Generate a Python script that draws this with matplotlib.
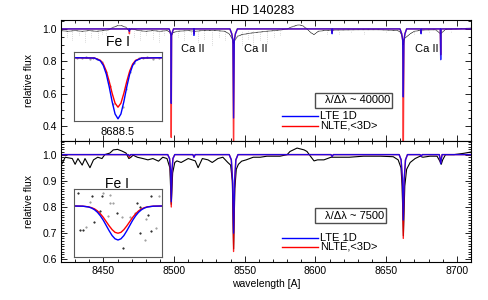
import matplotlib
matplotlib.use("Agg")
import matplotlib.pyplot as plt
from matplotlib.patches import Rectangle
from matplotlib.ticker import MultipleLocator

plt.rcParams["font.family"] = ["Liberation Sans", "DejaVu Sans"]

# ---- top panel: high resolution (R ~ 40000) ----
top_obs_wl = [8420, 8425, 8430, 8435, 8440, 8445, 8450, 8454, 8457, 8460, 8463, 8466,
              8468, 8470, 8475, 8480, 8485, 8490, 8495, 8497, 8498, 8499, 8502, 8510,
              8515, 8520, 8530, 8536, 8539, 8541, 8542, 8543, 8545, 8548, 8555, 8565,
              8575, 8580, 8584, 8588, 8591, 8594, 8597, 8599, 8602, 8606, 8615, 8630,
              8645, 8658, 8660, 8661.5, 8662.1, 8663, 8665, 8667, 8670, 8675, 8685,
              8688.6, 8692, 8700, 8710]
top_obs_flux = [0.99, 0.985, 0.99, 0.985, 0.99, 0.985, 0.99, 0.995, 1.01, 1.02, 1.02, 1.01,
                0.99, 1.0, 0.99, 0.985, 0.99, 0.985, 0.99, 0.98, 0.96, 0.975, 0.985, 0.99,
                0.985, 0.99, 0.99, 0.985, 0.97, 0.94, 0.91, 0.93, 0.955, 0.965, 0.975, 0.985,
                0.993, 1.0, 1.015, 1.025, 1.02, 1.0, 0.975, 0.965, 0.985, 0.99, 0.993, 0.995,
                0.995, 0.99, 0.98, 0.95, 0.9, 0.94, 0.955, 0.97, 0.985, 0.993, 0.995,
                0.97, 0.997, 1.0, 1.005]
# noise spikes of the observed high-resolution spectrum
spike_wl = [8424, 8428, 8433, 8437, 8441, 8446, 8449, 8452, 8472, 8476, 8480, 8485,
            8489, 8493, 8503, 8507, 8512, 8517, 8521, 8527, 8532, 8536, 8548, 8552,
            8556, 8561, 8566, 8571, 8575, 8608, 8617, 8625, 8634, 8650, 8670, 8680, 8696]
spike_flux = [0.95, 0.93, 0.96, 0.92, 0.95, 0.94, 0.97, 0.96, 0.95, 0.93, 0.96, 0.94,
              0.92, 0.96, 0.95, 0.93, 0.97, 0.92, 0.94, 0.9, 0.95, 0.93, 0.9, 0.94,
              0.88, 0.93, 0.91, 0.95, 0.96, 0.97, 0.97, 0.98, 0.97, 0.98, 0.97, 0.98, 0.98]

top_model_wl = [8420, 8468.1, 8468.4, 8468.7,
                8496.5, 8497.3, 8497.8, 8498.02, 8498.25, 8498.8, 8499.6,
                8513.9, 8514.07, 8514.25,
                8539.5, 8540.8, 8541.6, 8542.09, 8542.6, 8543.4, 8544.8,
                8611.5, 8611.8, 8612.1,
                8659.8, 8661.0, 8661.7, 8662.14, 8662.6, 8663.3, 8664.5,
                8674.4, 8674.75, 8675.1,
                8688.3, 8688.6, 8688.9, 8710]
top_lte_flux = [1.0, 1.0, 0.985, 1.0,
                1.0, 0.98, 0.96, 0.54, 0.96, 0.98, 1.0,
                1.0, 0.96, 1.0,
                1.0, 0.97, 0.93, 0.45, 0.93, 0.97, 1.0,
                1.0, 0.97, 1.0,
                1.0, 0.97, 0.93, 0.58, 0.93, 0.97, 1.0,
                1.0, 0.97, 1.0,
                1.0, 0.81, 1.0, 1.0]
top_nlte_flux = [1.0, 1.0, 0.97, 1.0,
                 1.0, 0.98, 0.96, 0.33, 0.96, 0.98, 1.0,
                 1.0, 0.97, 1.0,
                 1.0, 0.97, 0.93, 0.22, 0.93, 0.97, 1.0,
                 1.0, 0.975, 1.0,
                 1.0, 0.97, 0.93, 0.22, 0.93, 0.97, 1.0,
                 1.0, 0.975, 1.0,
                 1.0, 0.84, 1.0, 1.0]

# ---- bottom panel: low resolution (R ~ 7500) ----
bot_obs_wl = [8420.5, 8423, 8428, 8430, 8432, 8435, 8437, 8440.5, 8443, 8446, 8449, 8451,
              8454.6, 8457, 8460, 8463, 8466, 8468, 8469.5, 8471, 8474, 8478, 8481.5, 8485,
              8489, 8492, 8495, 8497, 8498, 8499, 8500.5, 8502, 8505, 8510, 8515, 8517,
              8520, 8524, 8527, 8531, 8534.5, 8538, 8540, 8541.2, 8542.1, 8543, 8544,
              8545.5, 8547.8, 8551, 8556, 8561, 8565.7, 8570.5, 8575, 8580, 8582, 8587,
              8592, 8594, 8597, 8599, 8601.5, 8606, 8611, 8617, 8624, 8634, 8646, 8655,
              8658.5, 8660.5, 8661.3, 8662.2, 8663.2, 8664.5, 8667, 8670.5, 8674, 8676,
              8681, 8686, 8688, 8689, 8690, 8692, 8698, 8705, 8710]
bot_obs_flux = [0.963, 0.99, 0.985, 0.963, 0.985, 0.96, 0.985, 0.95, 0.98, 0.99, 0.985, 1.0,
                1.006, 1.018, 1.02, 1.014, 1.006, 0.985, 0.99, 0.998, 0.99, 0.985, 0.98, 0.985,
                0.975, 0.99, 0.985, 0.95, 0.81, 0.93, 0.97, 0.976, 0.97, 0.985, 0.976, 0.95,
                0.985, 0.98, 0.97, 0.985, 0.99, 0.97, 0.96, 0.9, 0.64, 0.87, 0.944,
                0.963, 0.975, 0.98, 0.99, 0.99, 0.994, 0.994, 0.994, 1.0, 1.012, 1.025,
                1.018, 1.012, 0.99, 0.976, 0.98, 0.98, 0.99, 0.99, 0.99, 0.994, 0.994, 0.992,
                0.98, 0.95, 0.88, 0.69, 0.88, 0.944, 0.97, 0.985, 0.994, 0.99,
                0.994, 0.994, 0.975, 0.963, 0.98, 1.0, 1.0, 1.005, 1.01]

bot_model_wl = [8420, 8467.6, 8468.4, 8469.2,
                8495.5, 8496.8, 8497.5, 8498.02, 8498.5, 8499.2, 8500.5,
                8513.3, 8514.07, 8514.9,
                8539.0, 8540.5, 8541.4, 8542.09, 8542.8, 8543.7, 8545.2,
                8611.0, 8611.8, 8612.6,
                8659.2, 8660.6, 8661.5, 8662.14, 8662.8, 8663.7, 8665.1,
                8674.0, 8674.75, 8675.5,
                8687.6, 8688.1, 8688.6, 8689.1, 8689.6, 8710]
bot_lte_flux = [1.0, 1.0, 0.995, 1.0,
                1.0, 0.985, 0.94, 0.82, 0.94, 0.985, 1.0,
                1.0, 0.99, 1.0,
                1.0, 0.98, 0.9, 0.7, 0.9, 0.98, 1.0,
                1.0, 0.993, 1.0,
                1.0, 0.98, 0.91, 0.75, 0.91, 0.98, 1.0,
                1.0, 0.993, 1.0,
                1.0, 0.985, 0.965, 0.985, 1.0, 1.0]
bot_nlte_flux = [1.0, 1.0, 0.99, 1.0,
                 1.0, 0.985, 0.935, 0.8, 0.935, 0.985, 1.0,
                 1.0, 0.99, 1.0,
                 1.0, 0.98, 0.89, 0.63, 0.89, 0.98, 1.0,
                 1.0, 0.993, 1.0,
                 1.0, 0.98, 0.9, 0.68, 0.9, 0.98, 1.0,
                 1.0, 0.993, 1.0,
                 1.0, 0.987, 0.968, 0.987, 1.0, 1.0]

# ---- Fe I 8688.5 insets ----
ins_top_wl = [8687.75, 8688.1, 8688.2, 8688.25, 8688.3, 8688.35, 8688.4, 8688.45, 8688.5,
              8688.55, 8688.6, 8688.65, 8688.7, 8688.75, 8688.8, 8688.9, 8689.25]
ins_top_lte = [1.0, 0.998, 0.978, 0.946, 0.887, 0.798, 0.695, 0.609, 0.575,
               0.609, 0.695, 0.798, 0.887, 0.946, 0.978, 0.998, 1.0]
ins_top_nlte = [1.0, 0.998, 0.982, 0.956, 0.908, 0.836, 0.753, 0.684, 0.656,
                0.684, 0.753, 0.836, 0.908, 0.956, 0.982, 0.998, 1.0]
ins_top_obs_wl = [8687.8, 8687.88, 8687.95, 8688.02, 8688.08, 8688.15, 8688.22, 8688.3,
                  8688.36, 8688.42, 8688.58, 8688.64, 8688.7, 8688.78, 8688.85, 8688.92,
                  8689.0, 8689.1, 8689.2]
ins_top_obs_flux = [1.0, 0.995, 1.005, 0.99, 1.0, 0.99, 0.97, 0.9, 0.8, 0.68, 0.66, 0.78,
                    0.9, 0.96, 1.0, 0.995, 1.005, 0.99, 1.0]

ins_bot_wl = [8687.0, 8687.3, 8687.5, 8687.6, 8687.7, 8687.8, 8687.9, 8688.0, 8688.1,
              8688.2, 8688.3, 8688.4, 8688.5, 8688.6, 8688.7, 8688.8, 8688.9, 8689.0,
              8689.1, 8689.2, 8689.3, 8689.4, 8689.5, 8689.7, 8690.0]
ins_bot_lte = [1.0, 0.999, 0.994, 0.988, 0.978, 0.963, 0.942, 0.916, 0.885, 0.854, 0.826,
               0.807, 0.8, 0.807, 0.826, 0.854, 0.885, 0.916, 0.942, 0.963, 0.978,
               0.988, 0.994, 0.999, 1.0]
ins_bot_nlte = [1.0, 0.999, 0.995, 0.99, 0.983, 0.971, 0.954, 0.933, 0.908, 0.883, 0.861,
                0.845, 0.84, 0.845, 0.861, 0.883, 0.908, 0.933, 0.954, 0.971, 0.983,
                0.99, 0.995, 0.999, 1.0]
ins_bot_obs_wl = [8687.15, 8687.55, 8687.94, 8688.23, 8687.2, 8687.41, 8687.69, 8688.17,
                  8688.48, 8688.63, 8688.66, 8689.08, 8689.16, 8689.44, 8689.61, 8689.91,
                  8687.89, 8688.91, 8689.53, 8689.8, 8689.25, 8688.34, 8689.61, 8688.0,
                  8687.6, 8688.23, 8689.25, 8689.42, 8687.32]
ins_bot_obs_flux = [1.078, 1.025, 1.059, 1.065, 0.859, 0.875, 0.904, 0.941,
                    0.957, 0.934, 0.751, 0.961, 1.016, 0.922, 0.855, 1.059,
                    0.973, 0.937, 0.947, 0.869, 0.996, 1.016, 1.06, 1.075,
                    1.059, 1.016, 0.839, 0.8, 0.859]

TICK = dict(direction="in", top=True, right=True, labelsize=7.5, width=0.6)


def style_main(ax, ymajor, yminor):
    ax.set_xlim(8420, 8710)
    ax.xaxis.set_major_locator(MultipleLocator(50))
    ax.xaxis.set_minor_locator(MultipleLocator(10))
    ax.yaxis.set_major_locator(MultipleLocator(ymajor))
    ax.yaxis.set_minor_locator(MultipleLocator(yminor))
    ax.tick_params(which="major", length=4, pad=3, **TICK)
    ax.tick_params(which="minor", length=2, **TICK)
    ax.yaxis.set_major_formatter(plt.FormatStrFormatter("%.1f"))
    for s in ax.spines.values():
        s.set_linewidth(0.8)
    ax.set_ylabel("relative flux", fontsize=7.5)
    ax.yaxis.set_label_coords(-0.065, 0.5)


def style_inset(ax, xlim, ylim):
    ax.set_xlim(*xlim)
    ax.set_ylim(*ylim)
    ax.set_xticks([])
    ax.set_yticks([])
    for s in ax.spines.values():
        s.set_linewidth(0.8)
        s.set_edgecolor("0.35")


def legend_block(ax, box, yblue, yred, text):
    x0, y0, x1, y1 = box
    ax.add_patch(Rectangle((x0, y0), x1 - x0, y1 - y0, transform=ax.transAxes,
                           fc="white", ec="0.3", lw=1.0, zorder=4))
    ax.text(0.644, (y0 + y1) / 2, text, transform=ax.transAxes, fontsize=8,
            va="center", zorder=5)
    ax.plot([0.539, 0.627], [yblue, yblue], color="blue", lw=1.0, transform=ax.transAxes)
    ax.plot([0.539, 0.627], [yred, yred], color="red", lw=1.0, transform=ax.transAxes)
    ax.text(0.632, yblue, "LTE 1D", transform=ax.transAxes, fontsize=8, va="center")
    ax.text(0.632, yred, "NLTE,<3D>", transform=ax.transAxes, fontsize=8, va="center")


def main():
    fig = plt.figure(figsize=(4.89, 3.0), dpi=100)
    ax1 = fig.add_axes([0.1247, 0.53, 0.8384, 0.4033])
    ax2 = fig.add_axes([0.1247, 0.1267, 0.8384, 0.4033])

    # top panel
    ax1.vlines(spike_wl, spike_flux, 0.985, colors="0.72", linestyles=":", lw=0.5)
    ax1.plot(top_obs_wl, top_obs_flux, color="black", lw=0.6, ls=(0, (1, 0.5)))
    ax1.plot(top_model_wl, top_nlte_flux, color="red", lw=1.0, alpha=0.8)
    ax1.plot(top_model_wl, top_lte_flux, color="blue", lw=1.0, alpha=0.8)
    ax1.set_ylim(0.308, 1.055)
    style_main(ax1, 0.2, 0.05)
    ax1.tick_params(labelbottom=False)
    for x, lab in [(0.139, "Fe I"), (0.322, "Ca II"), (0.476, "Ca II"), (0.893, "Ca II")]:
        ax1.text(x, 0.82 if lab == "Fe I" else 0.76, lab, transform=ax1.transAxes,
                 fontsize=10 if lab == "Fe I" else 8, ha="center", va="center")
    ax1.text(0.139, 0.074, "8688.5", transform=ax1.transAxes, fontsize=8,
             ha="center", va="center")
    legend_block(ax1, (0.6195, 0.273, 0.807, 0.397), 0.207, 0.124, "λ/Δλ ~ 40000")

    # bottom panel
    ax2.plot(bot_obs_wl, bot_obs_flux, color="black", lw=0.8)
    ax2.plot(bot_model_wl, bot_nlte_flux, color="red", lw=1.0, alpha=0.85)
    ax2.plot(bot_model_wl, bot_lte_flux, color="blue", lw=1.0, alpha=0.85)
    ax2.set_ylim(0.59, 1.052)
    style_main(ax2, 0.1, 0.01)
    ax2.set_xlabel("wavelength [A]", fontsize=7.5, labelpad=2)
    ax2.text(0.137, 0.645, "Fe I", transform=ax2.transAxes, fontsize=10,
             ha="center", va="center")
    legend_block(ax2, (0.6195, 0.322, 0.793, 0.446), 0.201, 0.124, "λ/Δλ ~ 7500")

    # insets
    in1 = fig.add_axes([0.1513, 0.5967, 0.18, 0.23])
    in1.plot(ins_top_obs_wl, ins_top_obs_flux, ".", color="0.6", ms=1.2)
    in1.plot(ins_top_wl, ins_top_nlte, color="red", lw=1.0)
    in1.plot(ins_top_wl, ins_top_lte, color="blue", lw=1.0)
    style_inset(in1, (8687.75, 8689.25), (0.56, 1.04))

    in2 = fig.add_axes([0.1513, 0.1433, 0.18, 0.2267])
    in2.plot(ins_bot_obs_wl[::2], ins_bot_obs_flux[::2], ".", color="black", ms=1.0)
    in2.plot(ins_bot_obs_wl[1::2], ins_bot_obs_flux[1::2], ".", color="0.55", ms=1.0)
    in2.plot(ins_bot_wl, ins_bot_nlte, color="red", lw=1.0)
    in2.plot(ins_bot_wl, ins_bot_lte, color="blue", lw=1.0)
    style_inset(in2, (8687.0, 8690.0), (0.7, 1.1))

    fig.text(0.538, 0.965, "HD 140283", fontsize=9, ha="center", va="center")
    fig.savefig("out.png", dpi=100)


if __name__ == "__main__":
    main()
